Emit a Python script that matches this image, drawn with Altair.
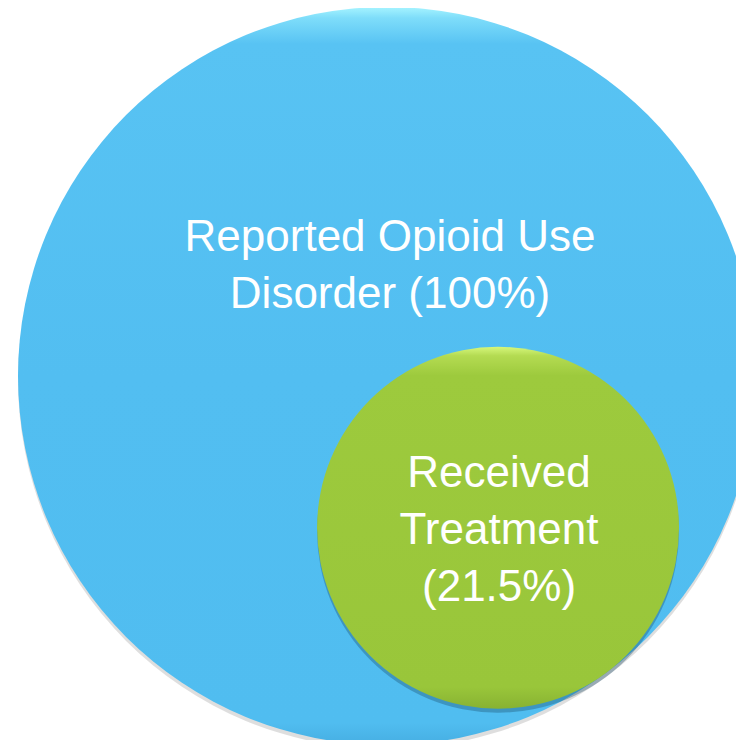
import math
import altair as alt
import pandas as pd

# ---- data ----
sets = ["Reported Opioid Use Disorder", "Received Treatment"]
shares = [100.0, 21.5]
labels = ["Reported Opioid Use\nDisorder (100%)", "Received\nTreatment\n(21.5%)"]

# ---- layout (nested circles, the smaller one internally tangent) ----
SIZE_EXP = 0.927          # pow exponent of the size scale
BIG_D = 738               # diameter of the 100% circle in px
ratio = (shares[1] / shares[0]) ** (SIZE_EXP / 2)   # diameter ratio
dist = 1 - ratio
ang = math.radians(53.8)
cx = [0.0, dist * math.cos(ang)]
cy = [0.0, -dist * math.sin(ang)]

df = pd.DataFrame({"set": sets, "share": shares, "label": labels, "cx": cx, "cy": cy})

W, H = 728, 732
R = BIG_D / 2
ccx, ccy = 379, 368  # centre of big circle in view px
xdom = [-ccx / R, (W - ccx) / R]
ydom = [-(H - ccy) / R, ccy / R]

x = alt.X("cx:Q", scale=alt.Scale(domain=xdom, nice=False, zero=False), axis=None)
y = alt.Y("cy:Q", scale=alt.Scale(domain=ydom, nice=False, zero=False), axis=None)
size = alt.Size("share:Q", scale=alt.Scale(type="pow", exponent=SIZE_EXP, domain=[0, 100],
                                           range=[0, BIG_D ** 2]), legend=None)

base = alt.Chart(df).encode(x=x, y=y, size=size)

blue_grad = alt.LinearGradient(
    gradient="linear", x1=0, y1=0, x2=0, y2=1,
    stops=[alt.GradientStop(offset=0, color="#A6F4FF"),
           alt.GradientStop(offset=0.015, color="#7EDDFA"),
           alt.GradientStop(offset=0.05, color="#58C3F3"),
           alt.GradientStop(offset=0.5, color="#52BEF1"),
           alt.GradientStop(offset=0.97, color="#50BDF0"),
           alt.GradientStop(offset=1, color="#46AEE2")])
green_grad = alt.LinearGradient(
    gradient="linear", x1=0, y1=0, x2=0, y2=1,
    stops=[alt.GradientStop(offset=0, color="#D6F77C"),
           alt.GradientStop(offset=0.025, color="#B4DB52"),
           alt.GradientStop(offset=0.08, color="#9DCA3D"),
           alt.GradientStop(offset=0.94, color="#99C63A"),
           alt.GradientStop(offset=1, color="#88B232")])

big = alt.datum.set == sets[0]
small = alt.datum.set == sets[1]

shadow_big = base.transform_filter(big).mark_circle(color="black", opacity=0.13, yOffset=4, clip=True)
circle_big = base.transform_filter(big).mark_circle(fill=blue_grad, opacity=1, clip=True)
shadow_small = base.transform_filter(small).mark_circle(color="#1a4a66", opacity=0.35, yOffset=4, clip=True)
circle_small = base.transform_filter(small).mark_circle(fill=green_grad, opacity=1, clip=True)

tbase = alt.Chart(df).encode(x=x, y=y, text="label:N")
text_big = tbase.transform_filter(big).mark_text(
    font="Liberation Sans", fontSize=44, color="white", lineBreak="\n", lineHeight=57,
    align="center", baseline="middle", dy=-138, dx=3)
text_small = tbase.transform_filter(small).mark_text(
    font="Liberation Sans", fontSize=44, color="white", lineBreak="\n", lineHeight=57,
    align="center", baseline="middle", dy=-54, dx=1)

chart = alt.layer(shadow_big, circle_big, shadow_small, circle_small, text_big, text_small).properties(
    width=W, height=H, padding=0, autosize=alt.AutoSizeParams(type="none"),
    background="white"
).configure_view(stroke=None)

chart.save("out.html", embed_options={"renderer": "svg", "actions": False})
